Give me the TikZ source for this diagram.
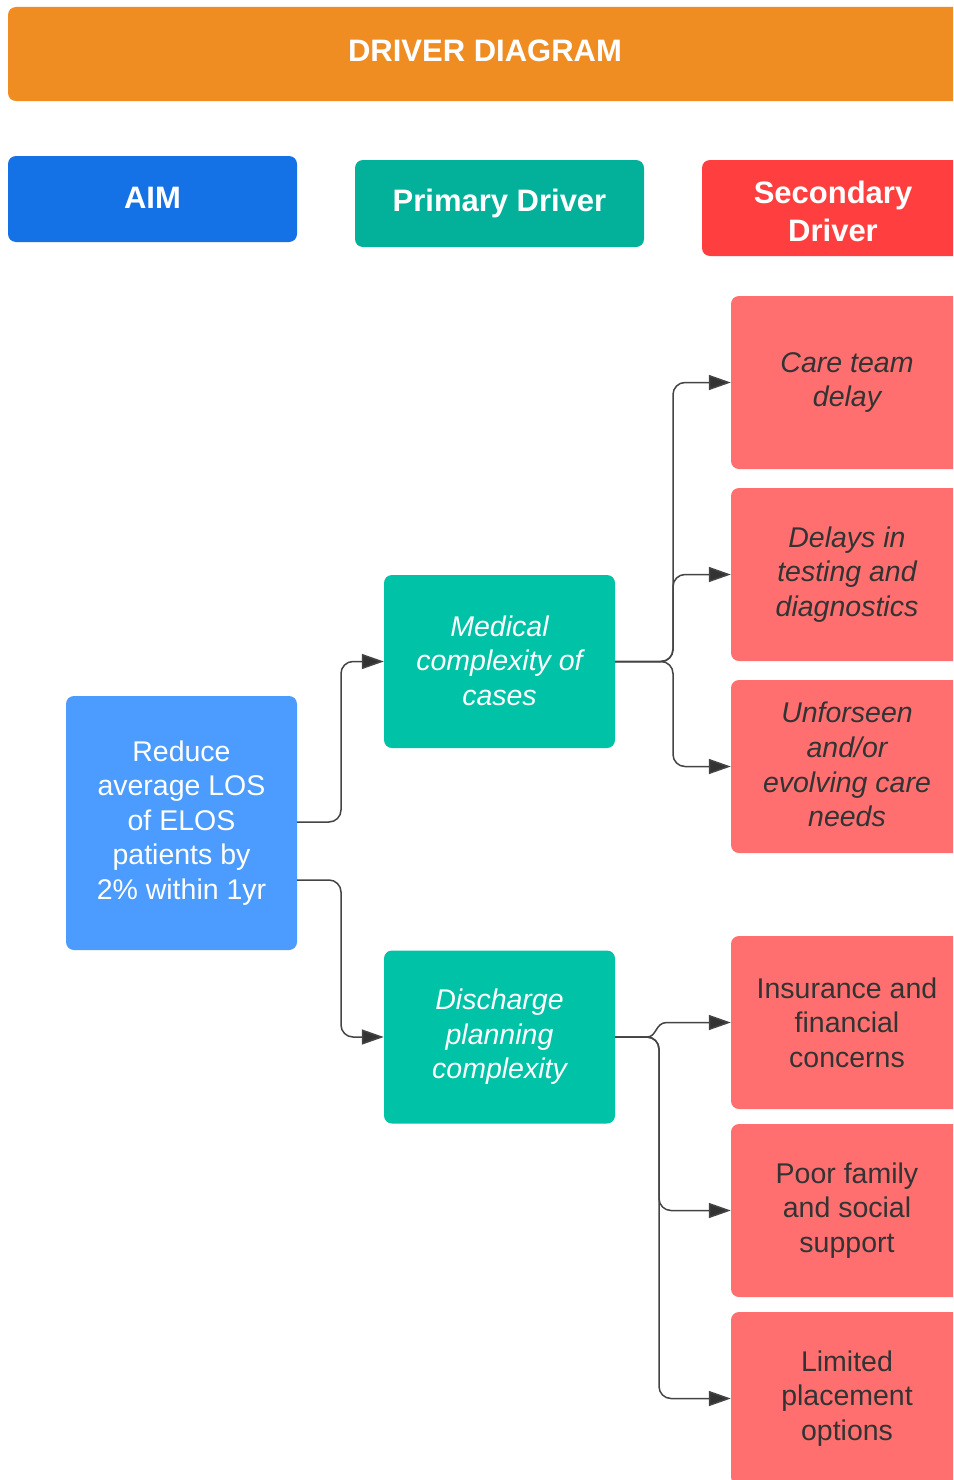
\documentclass[tikz,border=0pt]{standalone}
\usepackage{fontspec}
\setmainfont{Liberation Sans}
\usetikzlibrary{arrows.meta}
\definecolor{cOrange}{HTML}{EF8D22}
\definecolor{cAimHead}{HTML}{1471E6}
\definecolor{cPrimHead}{HTML}{03B09A}
\definecolor{cSecHead}{HTML}{FF3F3F}
\definecolor{cAim}{HTML}{4C9BFF}
\definecolor{cPrim}{HTML}{00C2A7}
\definecolor{cSec}{HTML}{FF6F6F}
\definecolor{cText}{HTML}{333333}
\definecolor{cLine}{HTML}{444444}
\tikzset{
  headbox/.style={rounded corners=8pt, text=white, align=center, font=\fontsize{31}{38}\selectfont\bfseries, inner sep=0pt},
  aimbox/.style={fill=cAim, rounded corners=8pt, text=white, align=center, font=\fontsize{28.5}{34.6}\selectfont, minimum width=231pt, minimum height=254pt, inner sep=0pt},
  primbox/.style={fill=cPrim, rounded corners=8pt, text=white, align=center, font=\fontsize{28.5}{34.6}\selectfont\itshape, minimum width=231pt, minimum height=173pt, inner sep=0pt},
  secbox/.style={fill=cSec, rounded corners=8pt, text=cText, align=center, font=\fontsize{28.5}{34.6}\selectfont, minimum width=232pt, minimum height=173pt, inner sep=0pt},
  tip/.style={-{Triangle[length=22pt, width=15pt, fill=cText]}},
  conn/.style={draw=cLine, line width=1.5pt, rounded corners=12pt, tip},
}
\begin{document}
\begin{tikzpicture}[x=1pt, y=-1pt]
\useasboundingbox (0,0) rectangle (953,1480);
\clip (0,0) rectangle (953,1480);
\fill[white] (0,0) rectangle (953,1480);
% headers
\node[headbox, fill=cOrange, minimum width=954pt, minimum height=94pt] (title) at (485,54) {\raisebox{6pt}{DRIVER DIAGRAM}};
\node[headbox, fill=cAimHead, minimum width=289pt, minimum height=86pt] (haim) at (152.5,199) {\raisebox{3pt}{AIM}};
\node[headbox, fill=cPrimHead, minimum width=289pt, minimum height=87pt] (hprim) at (499.5,203.5) {Primary Driver};
\node[headbox, fill=cSecHead, minimum width=262pt, minimum height=96pt] (hsec) at (833,208) {};
\node[headbox] (hsect) at (833,211) {Secondary\\Driver};
% aim
\node[aimbox] (aim) at (181.5,823) {Reduce\\average LOS\\of ELOS\\patients by\\2\% within 1yr};
% primary
\node[primbox] (med) at (499.5,661.5) {\raisebox{2pt}{Medical}\\\raisebox{2pt}{complexity of}\\\raisebox{2pt}{cases}};
\node[primbox] (dis) at (499.5,1037) {Discharge\\planning\\complexity};
% secondary
\node[secbox, font=\fontsize{28.5}{34.6}\selectfont\itshape] (s1) at (847,382.5) {Care team\\delay};
\node[secbox, font=\fontsize{28.5}{34.6}\selectfont\itshape] (s2) at (847,574.5) {Delays in\\testing and\\diagnostics};
\node[secbox, font=\fontsize{28.5}{34.6}\selectfont\itshape] (s3) at (847,766.5) {\raisebox{4pt}{Unforseen}\\\raisebox{4pt}{and/or}\\\raisebox{4pt}{evolving care}\\\raisebox{4pt}{needs}};
\node[secbox] (s4) at (847,1022.5) {Insurance and\\financial\\concerns};
\node[secbox] (s5) at (847,1210.5) {Poor family\\and social\\support};
\node[secbox] (s6) at (847,1398.5) {Limited\\placement\\options};
% coordinates
\coordinate (a1) at (aim.east |- 0,822);
\coordinate (a2) at (aim.east |- 0,880);
\coordinate (mx) at (673,661.5);
\coordinate (dx) at (659,1037);
% connectors
\draw[conn] (a1) -- (341,822) -- (341,661.5) -- (med.west);
\draw[conn] (a2) -- (341,880) -- (341,1037) -- (dis.west);
\draw[conn] (med.east) -- (mx) -- (673,382.5) -- (s1.west);
\draw[conn] (med.east) -- (mx) -- (673,574.5) -- (s2.west);
\draw[conn] (med.east) -- (mx) -- (673,766.5) -- (s3.west);
\draw[draw=cLine, line width=1.5pt, tip] (dis.east) -- (647,1037) .. controls (657,1037) and (655,1022.5) .. (667,1022.5) -- (s4.west);
\draw[conn] (dis.east) -- (dx) -- (659,1210.5) -- (s5.west);
\draw[conn] (dis.east) -- (dx) -- (659,1398.5) -- (s6.west);
\end{tikzpicture}
\end{document}
